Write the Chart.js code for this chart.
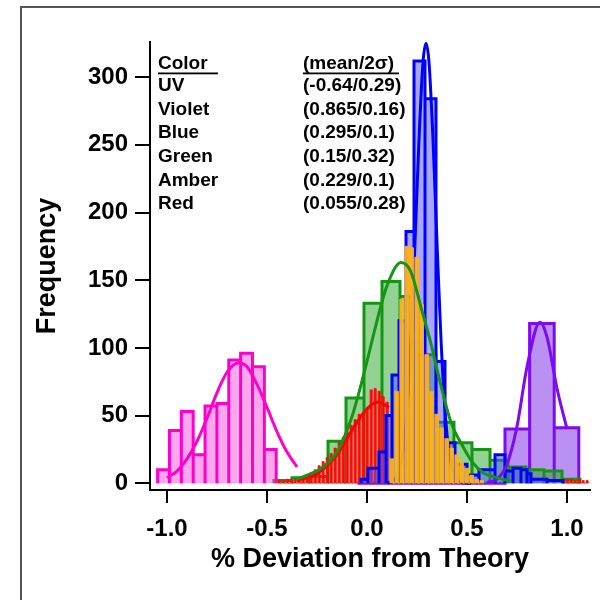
<!DOCTYPE html>
<html>
<head>
<meta charset="utf-8">
<script src="https://cdn.jsdelivr.net/npm/chart.js@4.4.1/dist/chart.umd.min.js"></script>
<style>
  html, body { margin: 0; padding: 0; background: #fff; }
</style>
</head>
<body>
<canvas id="histChart" width="600" height="600"></canvas>
<script>
// axis ticks
const xTicks = [-1.0, -0.5, 0.0, 0.5, 1.0];
const yTicks = [0, 50, 100, 150, 200, 250, 300];

// histograms: first bin edge, bin width, counts
const uvStart = -1.047, uvWidth = 0.0593;
const uvCounts = [10, 39, 53, 21, 57, 59, 91, 96, 86, 25];

const violetStart = -0.048, violetWidth = 0.123;
const violetCounts = [0, 0, 0, 0, 0, 0, 40, 118, 41];

const greenStart = -0.465, greenWidth = 0.09;
const greenCounts = [2, 4, 5, 31, 63, 133, 149, 138, 95, 45, 30, 25, 17, 12, 10, 9, 3];

const redStart = -0.45, redWidth = 0.02;
const redCounts = [2, 2, 3, 3, 3, 4, 5, 6, 8, 10, 13, 16, 19, 22, 26, 30, 34, 38, 43, 47, 51, 52, 55, 69, 70, 68, 64, 60];
const redTailStart = 0.97;
const redTailCounts = [2, 3, 3, 2, 3, 2, 2];

const amberStart = 0.11, amberWidth = 0.025;
const amberCounts = [18, 68, 136, 175, 174, 167, 132, 95, 68, 51, 41, 33, 26, 21, 16, 11, 6, 3, 2];

// blue bins are not uniform
const blueEdges = [-0.03, 0.005, 0.06, 0.095, 0.125, 0.16, 0.195, 0.235, 0.29, 0.345, 0.39, 0.44, 0.5, 0.56, 0.64, 0.69, 0.73, 0.77, 0.8, 0.82, 0.9, 0.98];
const blueCounts = [3, 11, 23, 50, 80, 120, 186, 312, 284, 90, 30, 14, 6, 10, 21, 9, 11, 10, 7, 3, 2];

// gaussian fits
const uvFitX = [-1.0, -0.95, -0.9, -0.85, -0.8, -0.75, -0.7, -0.64, -0.6, -0.55, -0.5, -0.45, -0.4, -0.35];
const uvFitY = [4, 9, 18, 31, 48, 67, 82, 89, 86, 73, 56, 38, 23, 12];
const violetFitX = [0.6, 0.65, 0.7, 0.75, 0.8, 0.865, 0.9, 0.95, 1.0];
const violetFitY = [0.5, 3, 14, 42, 86, 119, 108, 70, 40];
const blueFitX = [0.1, 0.15, 0.18, 0.2, 0.22, 0.24, 0.26, 0.28, 0.295, 0.31, 0.33, 0.35, 0.37, 0.39, 0.41, 0.44, 0.48, 0.52];
const blueFitY = [0, 5, 23, 54, 106, 178, 254, 311, 325, 311, 254, 178, 106, 54, 23, 5, 0.3, 0];
const greenFitX = [-0.35, -0.3, -0.23, -0.15, -0.08, -0.04, 0.0, 0.05, 0.1, 0.17, 0.22, 0.27, 0.32, 0.36, 0.42, 0.48, 0.53, 0.58, 0.65, 0.72];
const greenFitY = [3, 6, 11, 23, 47, 67, 90, 120, 146, 163, 156, 130, 103, 78, 45, 27, 15, 8, 4, 1.5];
const redFitX = [-0.35, -0.3, -0.25, -0.2, -0.15, -0.1, -0.05, 0.0, 0.055, 0.11];
const redFitY = [2, 4, 7, 13, 21, 33, 45, 55, 60, 56];

// legend table
const legendNames = ['UV', 'Violet', 'Blue', 'Green', 'Amber', 'Red'];
const legendStats = ['(-0.64/0.29)', '(0.865/0.16)', '(0.295/0.1)', '(0.15/0.32)', '(0.229/0.1)', '(0.055/0.28)'];

const FONT = "'Liberation Sans', Arial, sans-serif";

function binEdges(start, width, n) {
  const e = [];
  for (let i = 0; i <= n; i++) e.push(start + i * width);
  return e;
}

// outline of a histogram: each bar goes up from and back to zero
function histPoints(edges, counts, gap) {
  const pts = [];
  counts.forEach((c, i) => {
    const a = edges[i] + gap, b = edges[i + 1] - gap;
    pts.push({x: a, y: 0}, {x: a, y: c}, {x: b, y: c}, {x: b, y: 0});
  });
  return pts;
}

function fitPoints(xs, ys) {
  return xs.map((x, i) => ({x: x, y: ys[i]}));
}

const bars = (label, pts, line, fill, width, order) => ({
  label: label, data: pts, borderColor: line, backgroundColor: fill,
  fill: 'origin', borderWidth: width, pointRadius: 0, tension: 0, order: order
});
const curve = (label, pts, color, order) => ({
  label: label, data: pts, borderColor: color, borderWidth: 3, fill: false,
  pointRadius: 0, cubicInterpolationMode: 'monotone', order: order
});

const redPts = histPoints(binEdges(redStart, redWidth, redCounts.length), redCounts, 0.005)
  .concat([{x: 0.5, y: null}],
          histPoints(binEdges(redTailStart, redWidth, redTailCounts.length), redTailCounts, 0.005));

const framePlugin = {
  id: 'frame',
  beforeDraw(chart) {
    const ctx = chart.ctx;
    ctx.save();
    ctx.fillStyle = '#fff';
    ctx.fillRect(0, 0, chart.width, chart.height);
    ctx.strokeStyle = '#555';
    ctx.lineWidth = 2;
    ctx.beginPath();
    ctx.moveTo(21, 600);
    ctx.lineTo(21, 7);
    ctx.lineTo(600, 7);
    ctx.stroke();
    ctx.restore();
  }
};

const tablePlugin = {
  id: 'statsTable',
  afterDraw(chart) {
    const ctx = chart.ctx, a = chart.chartArea;
    const c1 = a.left + 8, c2 = a.left + 153;
    ctx.save();
    ctx.font = 'bold 19px ' + FONT;
    ctx.fillStyle = '#000';
    ctx.textBaseline = 'middle';
    ctx.textAlign = 'left';
    ctx.fillText('Color', c1, 64);
    ctx.fillText('(mean/2σ)', c2, 64);
    ctx.fillRect(c1, 72.5, 60, 1.8);
    ctx.fillRect(c2, 72.5, 96, 1.8);
    legendNames.forEach((n, i) => {
      const y = 86 + i * 23.6;
      ctx.fillText(n, c1, y);
      ctx.fillText(legendStats[i], c2, y);
    });
    ctx.restore();
  }
};

const axisGrid = { drawOnChartArea: false, color: '#000', lineWidth: 2, tickLength: 13 };

new Chart(document.getElementById('histChart').getContext('2d'), {
  type: 'line',
  data: {
    datasets: [
      curve('Green fit', fitPoints(greenFitX, greenFitY), 'rgb(20,150,20)', 1),
      curve('Violet fit', fitPoints(violetFitX, violetFitY), 'rgb(125,10,240)', 2),
      curve('UV fit', fitPoints(uvFitX, uvFitY), 'rgb(255,0,204)', 3),
      curve('Red fit', fitPoints(redFitX, redFitY), 'rgb(255,0,0)', 4),
      bars('UV', histPoints(binEdges(uvStart, uvWidth, uvCounts.length), uvCounts, 0),
           'rgb(255,0,204)', 'rgba(255,60,215,0.45)', 3, 5),
      bars('Amber', histPoints(binEdges(amberStart, amberWidth, amberCounts.length), amberCounts, 0.004),
           'rgb(255,176,20)', 'rgba(255,182,30,0.92)', 0.8, 6),
      curve('Blue fit', fitPoints(blueFitX, blueFitY), 'rgb(0,0,255)', 7),
      bars('Blue', histPoints(blueEdges, blueCounts, 0),
           'rgb(0,0,255)', 'rgba(80,80,255,0.5)', 3, 8),
      bars('Red', redPts, 'rgb(255,0,0)', 'rgb(255,25,25)', 0.6, 9),
      bars('Green', histPoints(binEdges(greenStart, greenWidth, greenCounts.length), greenCounts, 0),
           'rgb(20,150,20)', 'rgba(40,165,40,0.5)', 3, 10),
      bars('Violet', histPoints(binEdges(violetStart, violetWidth, violetCounts.length), violetCounts, 0),
           'rgb(125,10,240)', 'rgba(140,70,235,0.6)', 3, 11)
    ]
  },
  options: {
    responsive: false,
    animation: false,
    layout: { padding: { left: 0, right: 10, top: 42, bottom: 0 } },
    plugins: { legend: { display: false }, tooltip: { enabled: false } },
    scales: {
      x: {
        type: 'linear',
        min: -1.085,
        max: 1.115,
        afterBuildTicks: s => { s.ticks = xTicks.map(v => ({value: v})); },
        afterFit: s => { s.height = 110; },
        grid: axisGrid,
        border: { color: '#000', width: 2 },
        ticks: {
          color: '#000', padding: 12,
          font: { family: FONT, size: 24, weight: 'bold' },
          callback: v => v.toFixed(1)
        },
        title: {
          display: true, text: '% Deviation from Theory', color: '#000',
          font: { family: FONT, size: 27, weight: 'bold' },
          padding: { bottom: 24 }
        }
      },
      y: {
        type: 'linear',
        min: -5,
        max: 326,
        afterBuildTicks: s => { s.ticks = yTicks.map(v => ({value: v})); },
        afterFit: s => { s.width = 150; },
        grid: Object.assign({}, axisGrid, { tickLength: 15 }),
        border: { color: '#000', width: 2 },
        ticks: {
          color: '#000', padding: 7,
          font: { family: FONT, size: 24, weight: 'bold' }
        },
        title: {
          display: true, text: 'Frequency', color: '#000',
          font: { family: FONT, size: 27, weight: 'bold' },
          padding: { top: 31 }
        }
      }
    }
  },
  plugins: [framePlugin, tablePlugin]
});
</script>
</body>
</html>
